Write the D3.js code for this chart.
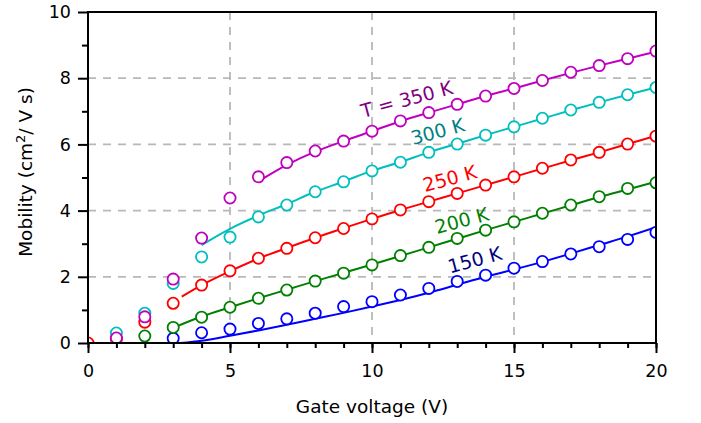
<!DOCTYPE html>
<html>
<head>
<meta charset="utf-8">
<script src="https://cdn.jsdelivr.net/npm/d3@7"></script>
<style>
  body { margin: 0; background: #fff; }
  text { font-family: "DejaVu Sans", sans-serif; }
</style>
</head>
<body>
<svg id="chart" width="701" height="423"></svg>
<script>
// measured points (gate voltage -> mobility)
const x150 = [3, 4, 5, 6, 7, 8, 9, 10, 11, 12, 13, 14, 15, 16, 17, 18, 19, 20];
const y150 = [0.14, 0.31, 0.42, 0.59, 0.73, 0.90, 1.10, 1.25, 1.45, 1.65, 1.86, 2.05, 2.26, 2.46, 2.69, 2.91, 3.13, 3.34];
const x200 = [2, 3, 4, 5, 6, 7, 8, 9, 10, 11, 12, 13, 14, 15, 16, 17, 18, 19, 20];
const y200 = [0.21, 0.47, 0.78, 1.08, 1.35, 1.60, 1.87, 2.11, 2.36, 2.64, 2.89, 3.16, 3.41, 3.66, 3.92, 4.17, 4.42, 4.67, 4.84];
const x250 = [0, 1, 2, 3, 4, 5, 6, 7, 8, 9, 10, 11, 12, 13, 14, 15, 16, 17, 18, 19, 20];
const y250 = [0, 0.12, 0.63, 1.20, 1.75, 2.18, 2.56, 2.86, 3.18, 3.46, 3.75, 4.02, 4.27, 4.52, 4.77, 5.02, 5.28, 5.53, 5.76, 6.01, 6.25];
const x300 = [1, 2, 3, 4, 5, 6, 7, 8, 9, 10, 11, 12, 13, 14, 15, 16, 17, 18, 19, 20];
const y300 = [0.30, 0.90, 1.80, 2.60, 3.20, 3.81, 4.17, 4.57, 4.87, 5.20, 5.46, 5.76, 6.01, 6.28, 6.53, 6.79, 7.04, 7.27, 7.50, 7.72];
const x350 = [1, 2, 3, 4, 5, 6, 7, 8, 9, 10, 11, 12, 13, 14, 15, 16, 17, 18, 19, 20];
const y350 = [0.15, 0.79, 1.93, 3.17, 4.38, 5.02, 5.45, 5.80, 6.10, 6.40, 6.71, 6.96, 7.21, 7.46, 7.69, 7.93, 8.18, 8.38, 8.59, 8.82];

// fitted curves
const fx150 = [3.25, 4, 5, 6, 7, 8, 9, 10, 11, 12, 13, 14, 15, 16, 17, 18, 19, 20];
const fy150 = [0, 0.07, 0.22, 0.38, 0.55, 0.73, 0.91, 1.10, 1.30, 1.52, 1.76, 2.00, 2.22, 2.45, 2.70, 2.96, 3.22, 3.50];
const fx200 = [3.2, 4, 5, 6, 7, 8, 9, 10, 11, 12, 13, 14, 15, 16, 17, 18, 19, 20];
const fy200 = [0.53, 0.80, 1.08, 1.35, 1.61, 1.87, 2.12, 2.37, 2.63, 2.89, 3.15, 3.41, 3.66, 3.91, 4.16, 4.41, 4.64, 4.87];
const fx250 = [3.3, 4, 5, 6, 7, 8, 9, 10, 11, 12, 13, 14, 15, 16, 17, 18, 19, 20];
const fy250 = [1.40, 1.75, 2.17, 2.55, 2.87, 3.18, 3.47, 3.75, 4.02, 4.27, 4.52, 4.77, 5.02, 5.27, 5.52, 5.76, 6.01, 6.26];
const fx300 = [4, 5, 6, 7, 8, 9, 10, 11, 12, 13, 14, 15, 16, 17, 18, 19, 20];
const fy300 = [2.96, 3.45, 3.85, 4.20, 4.57, 4.88, 5.20, 5.47, 5.76, 6.02, 6.28, 6.53, 6.78, 7.03, 7.27, 7.50, 7.72];
const fx350 = [6, 7, 8, 9, 10, 11, 12, 13, 14, 15, 16, 17, 18, 19, 20];
const fy350 = [4.88, 5.38, 5.78, 6.10, 6.40, 6.70, 6.96, 7.21, 7.46, 7.69, 7.93, 8.16, 8.38, 8.59, 8.80];

const labels = ["150 K", "200 K", "250 K", "300 K", "T = 350 K"];
const labelX = [12.75, 12.29, 11.87, 11.44, 9.68];
const labelY = [2.10, 3.29, 4.56, 5.98, 6.80];

const xTicks = [0, 5, 10, 15, 20];
const yTicks = [0, 2, 4, 6, 8, 10];

const series = [
  {px: x150, py: y150, fx: fx150, fy: fy150, color: "#0000ff", text: "#000080"},
  {px: x200, py: y200, fx: fx200, fy: fy200, color: "#008000", text: "#008000"},
  {px: x250, py: y250, fx: fx250, fy: fy250, color: "#ff0000", text: "#ff0000"},
  {px: x300, py: y300, fx: fx300, fy: fy300, color: "#00bfbf", text: "#008080"},
  {px: x350, py: y350, fx: fx350, fy: fy350, color: "#bf00bf", text: "#800080"}
];

const margin = {top: 12, right: 45, bottom: 80, left: 88};
const width = 701 - margin.left - margin.right;
const height = 423 - margin.top - margin.bottom;

const svg = d3.select("#chart");
const g = svg.append("g").attr("transform", `translate(${margin.left},${margin.top})`);

const x = d3.scaleLinear().domain([0, 20]).range([0, width]);
const y = d3.scaleLinear().domain([0, 10]).range([height, 0]);

svg.append("defs").append("clipPath").attr("id", "plotclip")
  .append("rect").attr("width", width).attr("height", height);

// grid
g.selectAll(".vgrid").data([5, 10, 15]).enter().append("line")
  .attr("x1", d => x(d)).attr("x2", d => x(d))
  .attr("y1", 0).attr("y2", height)
  .style("stroke", "#b8b8b8").style("stroke-width", 1.8).style("stroke-dasharray", "8,7");
g.selectAll(".hgrid").data([2, 4, 6, 8]).enter().append("line")
  .attr("y1", d => y(d)).attr("y2", d => y(d))
  .attr("x1", 0).attr("x2", width)
  .style("stroke", "#b8b8b8").style("stroke-width", 1.8).style("stroke-dasharray", "8,7");

const plot = g.append("g").attr("clip-path", "url(#plotclip)");

const line = d3.line().x(d => x(d[0])).y(d => y(d[1])).curve(d3.curveMonotoneX);

series.forEach(s => {
  const fit = s.fx.map((v, i) => [v, s.fy[i]]);
  plot.append("path").datum(fit)
    .attr("d", line)
    .style("fill", "none").style("stroke", s.color).style("stroke-width", 2);
});

series.forEach(s => {
  const pts = s.px.map((v, i) => [v, s.py[i]]);
  plot.selectAll(null).data(pts).enter().append("circle")
    .attr("cx", d => x(d[0])).attr("cy", d => y(d[1]))
    .attr("r", 5.6)
    .style("fill", "white").style("stroke", s.color).style("stroke-width", 1.8);
});

// curve labels
series.forEach((s, i) => {
  g.append("text")
    .attr("transform", `translate(${x(labelX[i])},${y(labelY[i])}) rotate(-15)`)
    .style("font-size", "19px").style("fill", s.text)
    .text(labels[i]);
});

// frame
g.append("rect").attr("width", width).attr("height", height)
  .style("fill", "none").style("stroke", "black").style("stroke-width", 2);

// axes
g.append("g").attr("transform", `translate(0,${height})`)
  .call(d3.axisBottom(x).tickValues(xTicks).tickSize(10).tickPadding(12).tickFormat(d3.format("d")));
g.append("g").attr("transform", `translate(0,${height})`)
  .call(d3.axisBottom(x).tickValues(d3.range(0, 21)).tickSize(5).tickFormat(""));
g.append("g")
  .call(d3.axisLeft(y).tickValues(yTicks).tickSize(10).tickPadding(7).tickFormat(d3.format("d")));
g.append("g")
  .call(d3.axisLeft(y).tickValues([1, 3, 5, 7, 9]).tickSize(6).tickFormat(""));

g.selectAll(".domain").remove();
g.selectAll(".tick line").style("stroke", "black").style("stroke-width", 2);
g.selectAll(".tick text").style("font-size", "17.5px").style("font-family", "DejaVu Sans").style("fill", "black");

svg.append("text")
  .attr("x", margin.left + width / 2).attr("y", 413)
  .attr("text-anchor", "middle")
  .style("font-size", "18.5px")
  .text("Gate voltage (V)");

const ylab = svg.append("text")
  .attr("transform", "translate(32,172) rotate(-90)")
  .attr("text-anchor", "middle")
  .style("font-size", "18.5px");
ylab.append("tspan").text("Mobility (cm");
ylab.append("tspan").attr("dy", -7).style("font-size", "13px").text("2");
ylab.append("tspan").attr("dy", 7).text("/ V s)");
</script>
</body>
</html>
